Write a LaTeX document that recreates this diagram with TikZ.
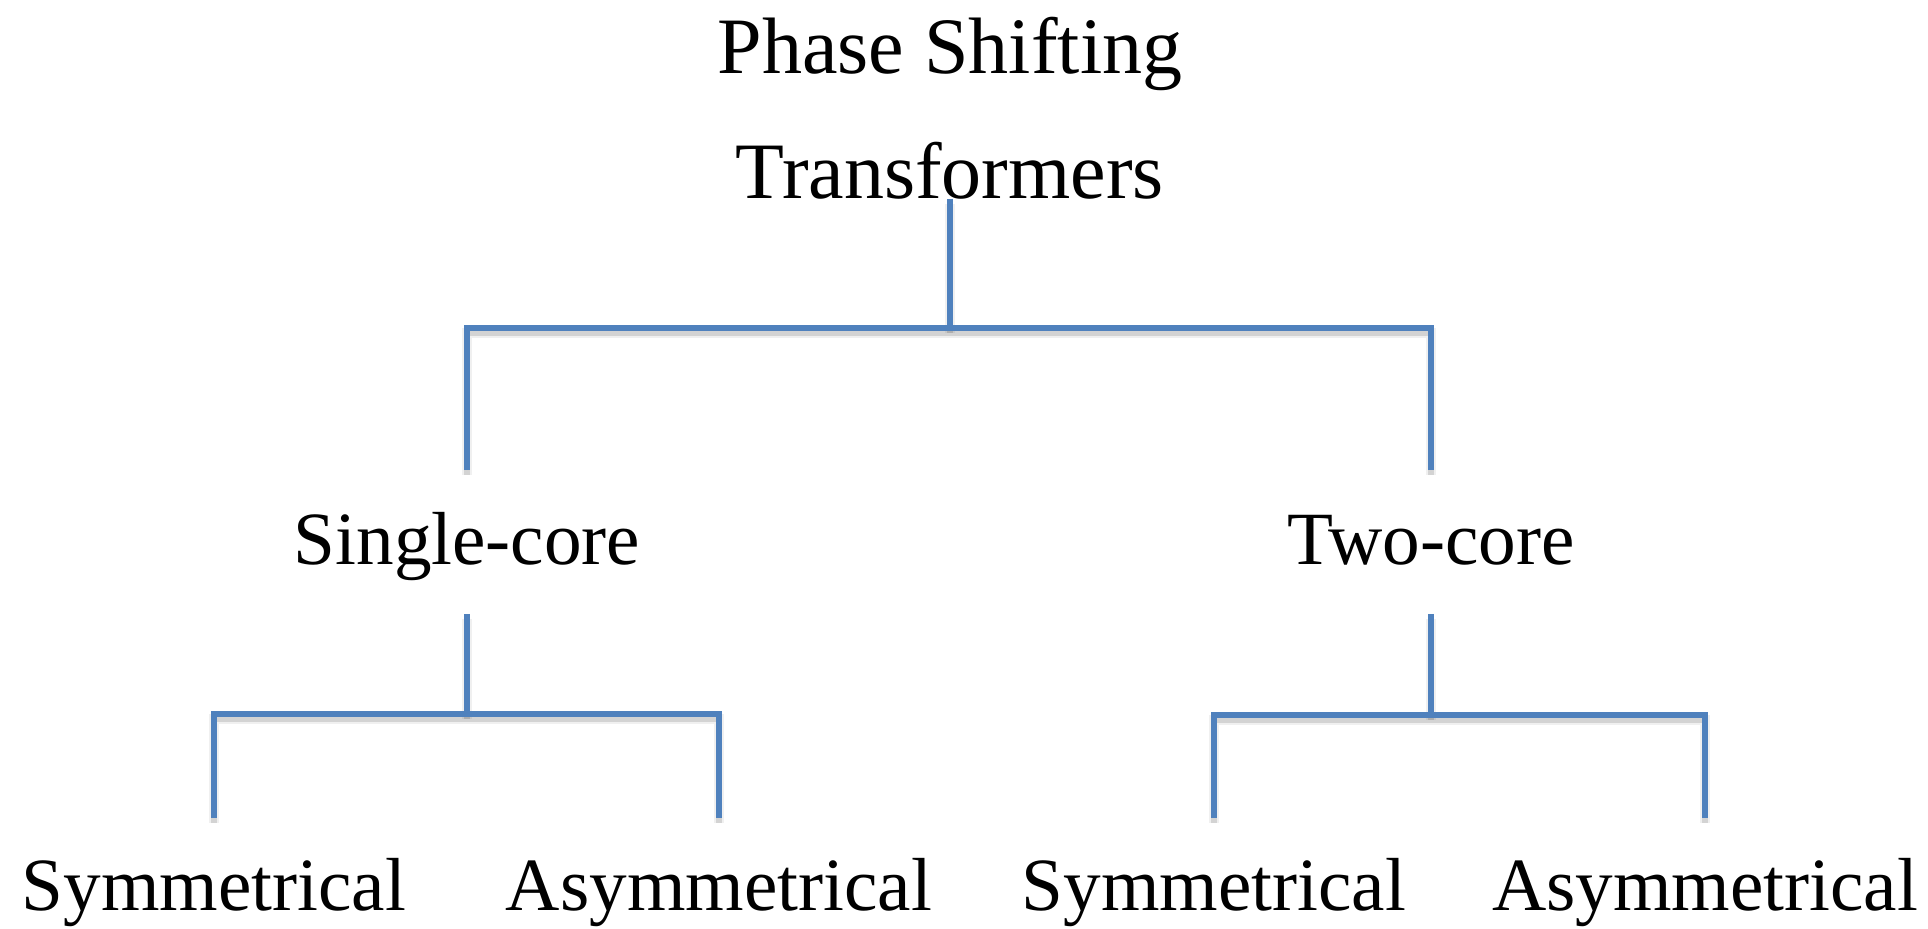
\documentclass[tikz,border=0pt]{standalone}
\usepackage{fontspec}
\setmainfont{Liberation Serif}
\definecolor{branchblue}{HTML}{4F81BD}
\begin{document}
\begin{tikzpicture}[x=0.5pt,y=-0.5pt,
  label/.style={inner sep=0pt,anchor=base,font=\fontsize{37.6}{44}\selectfont},
  titlelabel/.style={inner sep=0pt,anchor=base,font=\fontsize{40}{46}\selectfont},
  branch/.style={draw=branchblue,line width=3.4pt},
  branchshadow/.style={draw=black,line width=5pt,opacity=0.06,
    transform canvas={yshift=-2.6pt}},
  branchshadowcore/.style={draw=black,line width=3pt,opacity=0.12,
    transform canvas={yshift=-2.4pt}},
]
\useasboundingbox (0,0) rectangle (1928,929);

% labels
\node[titlelabel] (root)  at (950,74)  {Phase Shifting};
\node[titlelabel] (rootb) at (950,199) {Transformers};
\node[label] (single) at (467,565)  {Single-core};
\node[label] (two)    at (1431,565) {Two-core};
\node[label] (ssym)   at (214,910)  {Symmetrical};
\node[label] (sasym)  at (719,910)  {Asymmetrical};
\node[label] (tsym)   at (1214,910) {Symmetrical};
\node[label] (tasym)  at (1705,910) {Asymmetrical};

% junction points of the three forks
\coordinate (j0) at (950,328);
\coordinate (j1) at (467,714);
\coordinate (j2) at (1431,715);

\newcommand\drawforks[1]{%
  \draw[#1] (rootb.base) -- (j0);
  \draw[#1] (single |- 0,470) |- (j0) -| (two |- 0,470);
  \draw[#1] (single |- 0,614) -- (j1);
  \draw[#1] (ssym |- 0,818) |- (j1) -| (sasym |- 0,818);
  \draw[#1] (two |- 0,614) -- (j2);
  \draw[#1] (tsym |- 0,818) |- (j2) -| (tasym |- 0,818);
}
\drawforks{branchshadow}
\drawforks{branchshadowcore}
\drawforks{branch}
\end{tikzpicture}
\end{document}
